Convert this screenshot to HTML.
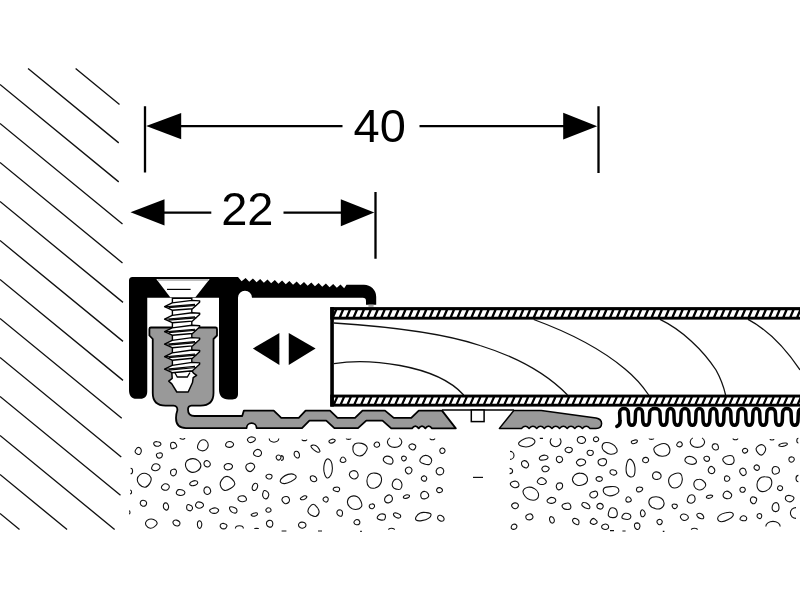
<!DOCTYPE html>
<html><head><meta charset="utf-8"><title>Profile 22 / 40</title>
<style>
html,body{margin:0;padding:0;background:#fff;}
body{width:800px;height:600px;overflow:hidden;}
svg{display:block;will-change:transform;}
.t{font-family:"Liberation Sans",Arial,Helvetica,sans-serif;fill:#000;}
</style></head><body>
<svg width="800" height="600" viewBox="0 0 800 600">
<defs><clipPath id="lamclip"><rect x="333.8" y="300" width="470" height="120"/></clipPath></defs>
<rect width="800" height="600" fill="#fff"/>
<path d="M75.61 68.5L119.5 104.49M28.05 68.5L118.75 142.88M0 84.5L118.75 181.88M0 123.5L122.5 223.95M0 162.5L122.5 262.95M0 201.5L123 302.36M0 240.5L123 341.36M0 279.5L123 380.36M0 318.5L121.75 418.33M0 357.5L121.25 456.93M0 396.5L120.5 495.31M0 435.5L114.63 529.5M0 474.5L67.07 529.5M0 513.5L19.51 529.5" stroke="#111" stroke-width="1.35" fill="none"/>
<g stroke="#000" stroke-width="2.25" fill="none">
<path d="M145 106.3V172.5M598.5 106.3V173M375.5 192V258.8" stroke-width="2.3"/>
<path d="M180 126H342.5M419.5 126H565M163 212.5H211.3M283.5 212.5H342"/>
</g>
<g fill="#000">
<path d="M146.2 126L181.2 113V139.2Z"/>
<path d="M597.2 126.2L563.2 112.7V139.6Z"/>
<path d="M130.5 212.3L164.5 199.2V225.5Z"/>
<path d="M374.3 212.5L340.8 199.2V226.2Z"/>
<path d="M252.9 348.5L279.4 333.1V365Z"/>
<path d="M315.6 348.5L288.75 333.1V365Z"/>
</g>
<text x="379.75" y="141.9" font-size="47" text-anchor="middle" class="t">40</text>
<text x="247.35" y="225.4" font-size="47" text-anchor="middle" class="t">22</text>
<rect x="330.25" y="307.1" width="469.75" height="99.5" fill="#fff"/>
<g stroke="#111" stroke-width="1.3" fill="none">
<path d="M334 323C380 326 440 332 480 345.5C520 358 548 375 567.5 395"/>
<path d="M334 363.7C350 361 375 361 400 365.5C430 371 452 382 463.7 395"/>
<path d="M533.7 319.5C565 331 600 348 625 369C636 378 644 388 648.7 395"/>
<path d="M660 319.4C682 330 703 350 716 370C721 379 724 388 725.6 395"/>
<path d="M748 319.4C768 330 786 349 800 370"/>
</g>
<rect x="330.25" y="307.1" width="469.75" height="12.5" fill="#000"/>
<path d="M327.47 316.7L330.27 310.2L334.67 310.2L331.87 316.7ZM334.4 316.7L337.2 310.2L341.6 310.2L338.8 316.7ZM341.33 316.7L344.13 310.2L348.53 310.2L345.73 316.7ZM348.26 316.7L351.06 310.2L355.46 310.2L352.66 316.7ZM355.19 316.7L357.99 310.2L362.39 310.2L359.59 316.7ZM362.12 316.7L364.92 310.2L369.32 310.2L366.52 316.7ZM369.05 316.7L371.85 310.2L376.25 310.2L373.45 316.7ZM375.98 316.7L378.78 310.2L383.18 310.2L380.38 316.7ZM382.91 316.7L385.71 310.2L390.11 310.2L387.31 316.7ZM389.84 316.7L392.64 310.2L397.04 310.2L394.24 316.7ZM396.77 316.7L399.57 310.2L403.97 310.2L401.17 316.7ZM403.7 316.7L406.5 310.2L410.9 310.2L408.1 316.7ZM410.63 316.7L413.43 310.2L417.83 310.2L415.03 316.7ZM417.56 316.7L420.36 310.2L424.76 310.2L421.96 316.7ZM424.49 316.7L427.29 310.2L431.69 310.2L428.89 316.7ZM431.42 316.7L434.22 310.2L438.62 310.2L435.82 316.7ZM438.35 316.7L441.15 310.2L445.55 310.2L442.75 316.7ZM445.28 316.7L448.08 310.2L452.48 310.2L449.68 316.7ZM452.21 316.7L455.01 310.2L459.41 310.2L456.61 316.7ZM459.14 316.7L461.94 310.2L466.34 310.2L463.54 316.7ZM466.07 316.7L468.87 310.2L473.27 310.2L470.47 316.7ZM473 316.7L475.8 310.2L480.2 310.2L477.4 316.7ZM479.93 316.7L482.73 310.2L487.13 310.2L484.33 316.7ZM486.86 316.7L489.66 310.2L494.06 310.2L491.26 316.7ZM493.79 316.7L496.59 310.2L500.99 310.2L498.19 316.7ZM500.72 316.7L503.52 310.2L507.92 310.2L505.12 316.7ZM507.65 316.7L510.45 310.2L514.85 310.2L512.05 316.7ZM514.58 316.7L517.38 310.2L521.78 310.2L518.98 316.7ZM521.51 316.7L524.31 310.2L528.71 310.2L525.91 316.7ZM528.44 316.7L531.24 310.2L535.64 310.2L532.84 316.7ZM535.37 316.7L538.17 310.2L542.57 310.2L539.77 316.7ZM542.3 316.7L545.1 310.2L549.5 310.2L546.7 316.7ZM549.23 316.7L552.03 310.2L556.43 310.2L553.63 316.7ZM556.16 316.7L558.96 310.2L563.36 310.2L560.56 316.7ZM563.09 316.7L565.89 310.2L570.29 310.2L567.49 316.7ZM570.02 316.7L572.82 310.2L577.22 310.2L574.42 316.7ZM576.95 316.7L579.75 310.2L584.15 310.2L581.35 316.7ZM583.88 316.7L586.68 310.2L591.08 310.2L588.28 316.7ZM590.81 316.7L593.61 310.2L598.01 310.2L595.21 316.7ZM597.74 316.7L600.54 310.2L604.94 310.2L602.14 316.7ZM604.67 316.7L607.47 310.2L611.87 310.2L609.07 316.7ZM611.6 316.7L614.4 310.2L618.8 310.2L616 316.7ZM618.53 316.7L621.33 310.2L625.73 310.2L622.93 316.7ZM625.46 316.7L628.26 310.2L632.66 310.2L629.86 316.7ZM632.39 316.7L635.19 310.2L639.59 310.2L636.79 316.7ZM639.32 316.7L642.12 310.2L646.52 310.2L643.72 316.7ZM646.25 316.7L649.05 310.2L653.45 310.2L650.65 316.7ZM653.18 316.7L655.98 310.2L660.38 310.2L657.58 316.7ZM660.11 316.7L662.91 310.2L667.31 310.2L664.51 316.7ZM667.04 316.7L669.84 310.2L674.24 310.2L671.44 316.7ZM673.97 316.7L676.77 310.2L681.17 310.2L678.37 316.7ZM680.9 316.7L683.7 310.2L688.1 310.2L685.3 316.7ZM687.83 316.7L690.63 310.2L695.03 310.2L692.23 316.7ZM694.76 316.7L697.56 310.2L701.96 310.2L699.16 316.7ZM701.69 316.7L704.49 310.2L708.89 310.2L706.09 316.7ZM708.62 316.7L711.42 310.2L715.82 310.2L713.02 316.7ZM715.55 316.7L718.35 310.2L722.75 310.2L719.95 316.7ZM722.48 316.7L725.28 310.2L729.68 310.2L726.88 316.7ZM729.41 316.7L732.21 310.2L736.61 310.2L733.81 316.7ZM736.34 316.7L739.14 310.2L743.54 310.2L740.74 316.7ZM743.27 316.7L746.07 310.2L750.47 310.2L747.67 316.7ZM750.2 316.7L753 310.2L757.4 310.2L754.6 316.7ZM757.13 316.7L759.93 310.2L764.33 310.2L761.53 316.7ZM764.06 316.7L766.86 310.2L771.26 310.2L768.46 316.7ZM770.99 316.7L773.79 310.2L778.19 310.2L775.39 316.7ZM777.92 316.7L780.72 310.2L785.12 310.2L782.32 316.7ZM784.85 316.7L787.65 310.2L792.05 310.2L789.25 316.7ZM791.78 316.7L794.58 310.2L798.98 310.2L796.18 316.7ZM798.71 316.7L801.51 310.2L805.91 310.2L803.11 316.7Z" fill="#fff" clip-path="url(#lamclip)"/>
<rect x="330.25" y="394.6" width="469.75" height="12" fill="#000"/>
<path d="M328.58 403.8L331.38 397.5L335.78 397.5L332.98 403.8ZM335.4 403.8L338.2 397.5L342.6 397.5L339.8 403.8ZM342.22 403.8L345.02 397.5L349.42 397.5L346.62 403.8ZM349.04 403.8L351.84 397.5L356.24 397.5L353.44 403.8ZM355.86 403.8L358.66 397.5L363.06 397.5L360.26 403.8ZM362.68 403.8L365.48 397.5L369.88 397.5L367.08 403.8ZM369.5 403.8L372.3 397.5L376.7 397.5L373.9 403.8ZM376.32 403.8L379.12 397.5L383.52 397.5L380.72 403.8ZM383.14 403.8L385.94 397.5L390.34 397.5L387.54 403.8ZM389.96 403.8L392.76 397.5L397.16 397.5L394.36 403.8ZM396.78 403.8L399.58 397.5L403.98 397.5L401.18 403.8ZM403.6 403.8L406.4 397.5L410.8 397.5L408 403.8ZM410.42 403.8L413.22 397.5L417.62 397.5L414.82 403.8ZM417.24 403.8L420.04 397.5L424.44 397.5L421.64 403.8ZM424.06 403.8L426.86 397.5L431.26 397.5L428.46 403.8ZM430.88 403.8L433.68 397.5L438.08 397.5L435.28 403.8ZM437.7 403.8L440.5 397.5L444.9 397.5L442.1 403.8ZM444.52 403.8L447.32 397.5L451.72 397.5L448.92 403.8ZM451.34 403.8L454.14 397.5L458.54 397.5L455.74 403.8ZM458.16 403.8L460.96 397.5L465.36 397.5L462.56 403.8ZM464.98 403.8L467.78 397.5L472.18 397.5L469.38 403.8ZM471.8 403.8L474.6 397.5L479 397.5L476.2 403.8ZM478.62 403.8L481.42 397.5L485.82 397.5L483.02 403.8ZM485.44 403.8L488.24 397.5L492.64 397.5L489.84 403.8ZM492.26 403.8L495.06 397.5L499.46 397.5L496.66 403.8ZM499.08 403.8L501.88 397.5L506.28 397.5L503.48 403.8ZM505.9 403.8L508.7 397.5L513.1 397.5L510.3 403.8ZM512.72 403.8L515.52 397.5L519.92 397.5L517.12 403.8ZM519.54 403.8L522.34 397.5L526.74 397.5L523.94 403.8ZM526.36 403.8L529.16 397.5L533.56 397.5L530.76 403.8ZM533.18 403.8L535.98 397.5L540.38 397.5L537.58 403.8ZM540 403.8L542.8 397.5L547.2 397.5L544.4 403.8ZM546.82 403.8L549.62 397.5L554.02 397.5L551.22 403.8ZM553.64 403.8L556.44 397.5L560.84 397.5L558.04 403.8ZM560.46 403.8L563.26 397.5L567.66 397.5L564.86 403.8ZM567.28 403.8L570.08 397.5L574.48 397.5L571.68 403.8ZM574.1 403.8L576.9 397.5L581.3 397.5L578.5 403.8ZM580.92 403.8L583.72 397.5L588.12 397.5L585.32 403.8ZM587.74 403.8L590.54 397.5L594.94 397.5L592.14 403.8ZM594.56 403.8L597.36 397.5L601.76 397.5L598.96 403.8ZM601.38 403.8L604.18 397.5L608.58 397.5L605.78 403.8ZM608.2 403.8L611 397.5L615.4 397.5L612.6 403.8ZM615.02 403.8L617.82 397.5L622.22 397.5L619.42 403.8ZM621.84 403.8L624.64 397.5L629.04 397.5L626.24 403.8ZM628.66 403.8L631.46 397.5L635.86 397.5L633.06 403.8ZM635.48 403.8L638.28 397.5L642.68 397.5L639.88 403.8ZM642.3 403.8L645.1 397.5L649.5 397.5L646.7 403.8ZM649.12 403.8L651.92 397.5L656.32 397.5L653.52 403.8ZM655.94 403.8L658.74 397.5L663.14 397.5L660.34 403.8ZM662.76 403.8L665.56 397.5L669.96 397.5L667.16 403.8ZM669.58 403.8L672.38 397.5L676.78 397.5L673.98 403.8ZM676.4 403.8L679.2 397.5L683.6 397.5L680.8 403.8ZM683.22 403.8L686.02 397.5L690.42 397.5L687.62 403.8ZM690.04 403.8L692.84 397.5L697.24 397.5L694.44 403.8ZM696.86 403.8L699.66 397.5L704.06 397.5L701.26 403.8ZM703.68 403.8L706.48 397.5L710.88 397.5L708.08 403.8ZM710.5 403.8L713.3 397.5L717.7 397.5L714.9 403.8ZM717.32 403.8L720.12 397.5L724.52 397.5L721.72 403.8ZM724.14 403.8L726.94 397.5L731.34 397.5L728.54 403.8ZM730.96 403.8L733.76 397.5L738.16 397.5L735.36 403.8ZM737.78 403.8L740.58 397.5L744.98 397.5L742.18 403.8ZM744.6 403.8L747.4 397.5L751.8 397.5L749 403.8ZM751.42 403.8L754.22 397.5L758.62 397.5L755.82 403.8ZM758.24 403.8L761.04 397.5L765.44 397.5L762.64 403.8ZM765.06 403.8L767.86 397.5L772.26 397.5L769.46 403.8ZM771.88 403.8L774.68 397.5L779.08 397.5L776.28 403.8ZM778.7 403.8L781.5 397.5L785.9 397.5L783.1 403.8ZM785.52 403.8L788.32 397.5L792.72 397.5L789.92 403.8ZM792.34 403.8L795.14 397.5L799.54 397.5L796.74 403.8ZM799.16 403.8L801.96 397.5L806.36 397.5L803.56 403.8Z" fill="#fff" clip-path="url(#lamclip)"/>
<rect x="330.25" y="307.1" width="3.6" height="99.5" fill="#000"/>
<path d="M442 410.1H514" stroke="#000" stroke-width="1.5" fill="none"/>
<rect x="471.3" y="410" width="12.8" height="11.6" fill="#fff" stroke="#000" stroke-width="1.5"/>
<path d="M150.9 327.5H215.5Q217 327.5 217 329V335.5L213.5 339V393Q213.5 405.6 200.5 405.6H191.5Q188 405.8 188 409.5Q188 416 194.5 416H242.2L243.9 410.6H273.75L281.25 417.9H298.75L305.6 410.6H330L337.5 417.9H355L362.5 410.6H385L393.75 417.9H411.25L418.75 410.6H442L455.8 428.4H432Q428.67 424 425.33 428.4Q422 424 418.67 428.4Q415.33 424 412 428.4H391.25L382.5 420.6H366.25L358 428.1H334.4L326.25 420.6H309.4L302 428.1H256.6A4.9 4.9 0 0 0 246.6 428.1H186Q176 428.1 176 418Q176 414 177.3 410.5Q177.8 406 173.5 405.6H165.5Q152.75 405.6 152.75 393V339L149.4 335.5V329Q149.4 327.5 150.9 327.5Z" fill="#999" stroke="#000" stroke-width="1.8" stroke-linejoin="round"/>
<path d="M499.4 428.4L513.75 410.6H541.25L596 418Q601.6 419 601.6 423.5Q601.6 428.4 596 428.4H590Q586.19 424 582.39 428.4Q578.58 424 574.78 428.4Q570.97 424 567.17 428.4Q563.36 424 559.56 428.4Q555.75 424 551.94 428.4Q548.14 424 544.33 428.4Q540.53 424 536.72 428.4Q532.92 424 529.11 428.4Q525.31 424 521.5 428.4Z" fill="#999" stroke="#000" stroke-width="1.5" stroke-linejoin="round"/>
<path d="M616.9 426.4Q620.6 425 620 420.5L619.6 412.8C619.6 407.2 628.3 407.2 628.3 412.8L628.6 421.1C628.6 426.7 635.2 426.7 635.2 421.1L635.5 412.8C635.5 407.2 642.5 407.2 642.5 412.8L642.8 421.1C642.8 426.7 649.4 426.7 649.4 421.1L649.7 412.8C649.7 407.2 660 407.2 660 412.8L660.3 421.1C660.3 426.7 666.9 426.7 666.9 421.1L667.2 412.8C667.2 407.2 673.9 407.2 673.9 412.8L674.2 421.1C674.2 426.7 680.8 426.7 680.8 421.1L681.1 412.8C681.1 407.2 688.8 407.2 688.8 412.8L689.1 421.1C689.1 426.7 695.7 426.7 695.7 421.1L696 412.8C696 407.2 702.8 407.2 702.8 412.8L703.1 421.1C703.1 426.7 709.7 426.7 709.7 421.1L710 412.8C710 407.2 716.8 407.2 716.8 412.8L717.1 421.1C717.1 426.7 723.7 426.7 723.7 421.1L724 412.8C724 407.2 730.8 407.2 730.8 412.8L731.1 421.1C731.1 426.7 737.7 426.7 737.7 421.1L738 412.8C738 407.2 745.7 407.2 745.7 412.8L746 421.1C746 426.7 752.6 426.7 752.6 421.1L752.9 412.8C752.9 407.2 759.7 407.2 759.7 412.8L760 421.1C760 426.7 766.6 426.7 766.6 421.1L766.9 412.8C766.9 407.2 775.4 407.2 775.4 412.8L775.7 421.1C775.7 426.7 782.3 426.7 782.3 421.1L782.6 412.8C782.6 407.2 791.1 407.2 791.1 412.8L791.4 421.1C791.4 426.7 798 426.7 798 421.1L798.3 412.8C798.3 407.2 806.4 407.2 806.4 412.8L806.7 421.1C806.7 426.7 813.3 426.7 813.3 421.1L813.6 412.8" fill="none" stroke="#000" stroke-width="3.5" stroke-linecap="round" stroke-linejoin="round"/>
<path d="M129 280.5Q129 277 132.5 277H238L241.6 281.2L245.6 278L249.25 281.65L252.9 278.51L256.55 282.16L260.2 279.01L263.85 282.66L267.5 279.52L271.15 283.17L274.8 280.03L278.45 283.68L282.1 280.54L285.75 284.19L289.4 281.04L293.05 284.69L296.7 281.55L300.35 285.2L304 282.06L307.65 285.71L311.3 282.57L314.95 286.22L318.6 283.07L322.25 286.72L325.9 283.58L329.55 287.23L333.2 284.09L336.85 287.74L340.5 284.6L344.15 288.25L346.5 284.7H364A12.2 12.2 0 0 1 376.2 297V304.8H366V301Q366 297.7 362.8 297.7H252A7 7 0 0 0 238 297.75V394C238 397.6 236 399.4 232.5 399.4H228.5C222.5 399.4 219 396 219 389.5V297.75H147.25V391.5C147.25 396.5 144.5 398.8 140.5 398.8H136.5C131.5 398.8 129 395.5 129 390Z" fill="#000"/>
<rect x="368.4" y="304.6" width="5.2" height="2.3" fill="#a8a8a8"/>
<path d="M156.3 279L209.7 279L195.4 297.2H170.2Z" fill="#fff"/>
<path d="M157.5 280H208.5" stroke="#aaa" stroke-width="1.3"/>
<path d="M167 289.4H190.6" stroke="#000" stroke-width="1.2"/>
<rect x="172.4" y="298.3" width="19.4" height="75" fill="#fff" stroke="#000" stroke-width="1.4"/>
<path d="M171.8 372L172.2 378.4L168.75 381.1L171.8 383.9L176.8 392H188.2L192.5 382.5L193.2 377.7L196.6 375.3L193.5 373.2L192.1 371Z" fill="#fff" stroke="#000" stroke-width="1.5" stroke-linejoin="round"/>
<path d="M174.9 372.7L177.3 377H187.3L190 372.5" fill="#fff" stroke="#000" stroke-width="1.3"/>
<path d="M164.6 306.7 L172.2 302.9 L192 300.4 L199.7 300.9 L199.6 302.2 L192.5 308.7 L172.2 310.2 Z" fill="#fff" stroke="#000" stroke-width="1.4" stroke-linejoin="round"/>
<path d="M164.6 306.7L195 304.4M168.5 307.6L196.3 305.5" stroke="#000" stroke-width="1.1" fill="none"/>
<path d="M164.6 319.2 L172.2 315.4 L192 312.8 L199.7 313.3 L199.6 314.6 L192.5 321.1 L172.2 322.7 Z" fill="#fff" stroke="#000" stroke-width="1.4" stroke-linejoin="round"/>
<path d="M164.6 319.2L195 316.8M168.5 320.1L196.3 317.9" stroke="#000" stroke-width="1.1" fill="none"/>
<path d="M164.6 331.7 L172.2 327.9 L192 325.2 L199.7 325.7 L199.6 327 L192.5 333.5 L172.2 335.2 Z" fill="#fff" stroke="#000" stroke-width="1.4" stroke-linejoin="round"/>
<path d="M164.6 331.7L195 329.2M168.5 332.6L196.3 330.3" stroke="#000" stroke-width="1.1" fill="none"/>
<path d="M164.6 344.2 L172.2 340.4 L192 337.6 L199.7 338.1 L199.6 339.4 L192.5 345.9 L172.2 347.7 Z" fill="#fff" stroke="#000" stroke-width="1.4" stroke-linejoin="round"/>
<path d="M164.6 344.2L195 341.6M168.5 345.1L196.3 342.7" stroke="#000" stroke-width="1.1" fill="none"/>
<path d="M164.6 356.7 L172.2 352.9 L192 350 L199.7 350.5 L199.6 351.8 L192.5 358.3 L172.2 360.2 Z" fill="#fff" stroke="#000" stroke-width="1.4" stroke-linejoin="round"/>
<path d="M164.6 356.7L195 354M168.5 357.6L196.3 355.1" stroke="#000" stroke-width="1.1" fill="none"/>
<path d="M164.6 369.2 L172.2 365.4 L192 362.4 L199.7 362.9 L199.6 364.2 L192.5 370.7 L172.2 372.7 Z" fill="#fff" stroke="#000" stroke-width="1.4" stroke-linejoin="round"/>
<path d="M164.6 369.2L195 366.4M168.5 370.1L196.3 367.5" stroke="#000" stroke-width="1.1" fill="none"/>
<path fill="none" stroke="#111" stroke-width="1.1" d="M137.1 453.9C136.2 453.4 135.3 452.7 135.1 451.8C135 450.8 135.6 449.8 136.2 449C136.8 448.1 137.6 447.4 138.4 447.4C139.3 447.3 140.3 448 140.8 448.9C141.4 449.7 141.4 450.7 141.2 451.8C140.9 452.8 140.5 453.9 139.7 454.3C139 454.7 138 454.4 137.1 453.9ZM160.8 444.6C160.6 445.3 159.7 445.8 158.8 446.1C157.8 446.4 156.9 446.4 156 446.1C155 445.8 154.3 445.3 154 444.5C153.6 443.8 153.7 442.8 154.4 442.2C155 441.7 156.3 441.6 157.4 441.7C158.5 441.7 159.4 442 160 442.5C160.7 443.1 161.1 443.9 160.8 444.6ZM171.1 443C171.7 442.4 172.9 442.2 173.8 442.4C174.7 442.5 175.4 443.1 175.9 444C176.4 444.8 176.9 446 176.6 446.8C176.2 447.7 175.2 448 174.2 448.3C173.3 448.6 172.3 449 171.6 448.5C170.9 448.1 170.7 446.9 170.6 445.9C170.5 444.8 170.5 443.7 171.1 443ZM206 449.6C204.8 450.6 203.4 451 201.8 450.8C200.2 450.5 198.3 449.6 197.7 448.2C197.1 446.7 197.8 444.9 198.6 443.3C199.3 441.8 200.3 440.4 201.8 440C203.4 439.6 205.3 440 206.5 441.1C207.8 442.2 208.3 444 208.2 445.6C208.1 447.3 207.2 448.6 206 449.6ZM226 443.6C226.4 442.7 227.1 442.1 228.1 441.8C229.1 441.4 230.2 441.4 231.2 441.8C232.3 442.3 233.3 443 233.5 443.9C233.7 444.8 233.1 445.9 232.3 446.5C231.4 447.2 230.3 447.5 229.1 447.4C227.9 447.4 226.6 447 226 446.2C225.4 445.5 225.6 444.4 226 443.6ZM248.1 441.2C247.5 440.5 247.1 439.8 247.6 439C248 438.2 249.2 437.4 250.4 437C251.6 436.7 252.7 436.9 253.6 437.3C254.6 437.7 255.3 438.2 255.4 439C255.5 439.7 254.9 440.6 253.9 441.3C253 442 251.6 442.6 250.5 442.6C249.4 442.6 248.6 441.9 248.1 441.2ZM159 453C160 452.8 161.3 452.8 161.9 453.3C162.5 453.8 162.4 454.8 162.3 455.6C162.1 456.4 161.9 457.1 161.1 457.5C160.4 458 159.2 458.3 158.3 458C157.5 457.8 157 457 156.7 456.2C156.4 455.5 156.2 454.7 156.7 454.1C157.1 453.4 158 453.1 159 453ZM261.4 453.9C261.2 454.9 260.4 455.9 259.3 456.3C258.2 456.7 257 456.6 255.8 456.1C254.7 455.6 253.7 454.7 253.5 453.8C253.3 452.8 254 451.8 254.8 450.9C255.6 450.1 256.6 449.4 257.7 449.4C258.8 449.4 260 450 260.7 450.9C261.4 451.7 261.7 452.8 261.4 453.9ZM278.8 438.6A4.8 3.6 0 0 1 269.2 438.6M276.3 456.5C276.7 455.7 277.5 455 278.3 455C279.2 454.9 280.3 455.5 280.7 456.2C281.1 456.9 280.9 458 280.5 458.7C280.1 459.5 279.2 460.1 278.5 460.1C277.7 460.1 277 459.4 276.6 458.7C276.2 458 276 457.2 276.3 456.5ZM154.3 464C155.5 463.6 157.1 463.6 158.2 464.2C159.4 464.8 160.1 466 160.1 467.1C160.1 468.2 159.3 469.1 158.3 469.7C157.3 470.4 156.3 470.8 155 470.7C153.8 470.6 152.4 470 151.8 469.2C151.3 468.4 151.7 467.3 152.2 466.3C152.6 465.3 153.1 464.4 154.3 464ZM170.6 473.2C170.4 472.2 170.6 471.2 171.1 470.4C171.7 469.7 172.4 469.3 173.4 469.2C174.3 469.1 175.5 469.2 176 470C176.6 470.7 176.5 472 176.2 473.1C176 474.1 175.5 474.9 174.7 475.4C173.9 475.9 172.9 476 172.1 475.6C171.3 475.1 170.7 474.2 170.6 473.2ZM198.2 460.6C199.7 462 201 463.7 200.9 465.6C200.8 467.5 199.6 469.5 197.7 470.7C195.8 472 193.3 472.7 191.1 472.1C188.8 471.5 187 469.7 186.1 467.6C185.2 465.5 185.4 462.9 186.6 461.2C187.9 459.5 190.5 458.8 192.7 458.6C194.9 458.5 196.6 459.3 198.2 460.6ZM204.7 465.6C204.2 464.8 203.8 463.7 204.1 462.7C204.4 461.8 205.4 460.8 206.3 460.6C207.3 460.4 208.2 461 209 461.6C209.8 462.2 210.2 462.9 210.3 463.8C210.4 464.6 210.1 465.6 209.4 466.2C208.8 466.8 207.9 467.1 207 466.9C206.1 466.8 205.3 466.4 204.7 465.6ZM224.1 466.7C224.1 465.7 224.7 464.8 225.7 464.2C226.6 463.6 227.7 463.5 228.9 463.6C230.1 463.7 231.3 464 231.9 464.8C232.6 465.5 232.6 466.6 232.2 467.5C231.8 468.4 231 469.1 229.7 469.5C228.5 469.9 226.9 469.9 225.8 469.4C224.8 468.9 224.2 467.7 224.1 466.7ZM248.9 463.5C250.1 463 251.4 463 252.6 463.6C253.7 464.2 254.6 465.4 254.7 466.6C254.9 467.7 254 468.6 253.1 469.6C252.2 470.6 251.3 471.6 250.1 471.6C248.8 471.6 247.5 470.7 246.7 469.6C245.9 468.5 245.6 467.1 246 465.9C246.4 464.7 247.6 463.9 248.9 463.5ZM130.6 468.2A2 2.8 0 0 1 130.6 473.8M146.2 473.5C148.3 474.1 150.2 475.7 150.9 477.5C151.6 479.4 151 481.3 149.9 483.1C148.8 485 147.2 486.9 145.2 487.2C143.1 487.4 140.9 486 139.4 484.5C137.9 483.1 137.2 481.4 137.3 479.5C137.4 477.6 138.3 475.8 140.1 474.6C141.8 473.5 144.1 472.9 146.2 473.5ZM270.7 478.7C269.9 479.1 268.8 479 268 478.8C267.1 478.5 266.5 478 266.2 477.3C265.9 476.7 265.9 475.9 266.4 475.3C266.9 474.7 267.7 474.4 268.7 474.3C269.6 474.2 270.7 474.3 271.3 474.8C272 475.3 272.1 476.1 272 476.9C271.8 477.6 271.5 478.4 270.7 478.7ZM168.4 484.9C169.3 485.6 169.4 486.6 169.2 487.5C169 488.4 168.5 489.2 167.5 489.7C166.5 490.2 165.2 490.4 164.1 490.1C162.9 489.8 161.9 489.1 161.6 488.2C161.2 487.4 161.6 486.5 162.2 485.7C162.8 484.8 163.7 483.9 164.9 483.7C166.1 483.6 167.6 484.1 168.4 484.9ZM197.6 482.2C197.8 482.9 197.5 483.8 196.7 484.4C195.9 485.1 194.7 485.5 193.5 485.6C192.3 485.8 191.4 485.7 190.7 485.2C189.9 484.8 189.5 484.2 189.8 483.5C190.1 482.8 190.9 482.1 192 481.6C193.2 481 194.6 480.5 195.6 480.7C196.7 480.8 197.4 481.5 197.6 482.2ZM230.8 488.3C228.9 489.5 226.6 490.9 224.6 490.4C222.6 489.8 220.9 487.4 220.4 485.4C219.8 483.4 220.5 481.6 221.7 479.9C222.9 478.1 224.6 476.5 226.6 476.4C228.6 476.2 230.4 477.5 232 479C233.6 480.5 235 482.2 234.8 484C234.6 485.8 232.8 487 230.8 488.3ZM184.8 492.2C185 493.1 184.3 494.2 183.4 494.8C182.4 495.4 181.1 495.5 179.8 495.4C178.6 495.3 177.5 494.9 176.8 494.2C176.2 493.5 176.2 492.6 176.6 491.8C176.9 490.9 177.5 489.9 178.6 489.6C179.7 489.3 181.2 489.5 182.4 490C183.6 490.5 184.6 491.2 184.8 492.2ZM208 487C208.9 487.3 209.5 487.9 210 488.8C210.5 489.8 210.9 490.9 210.6 491.9C210.3 493 209.4 494 208.3 494.3C207.3 494.6 206.2 494.3 205.3 493.6C204.5 492.9 204 491.7 203.9 490.6C203.9 489.4 204.4 488.1 205.1 487.5C205.9 486.8 207 486.8 208 487ZM256 483.3C256.7 483.4 257.4 484 257.6 485C257.8 486 257.4 487.4 256.9 488.5C256.4 489.5 255.5 490.1 254.8 490.4C254 490.7 253.3 490.5 252.8 489.9C252.3 489.3 252 488.4 252.2 487.3C252.4 486.2 253 485 253.7 484.2C254.4 483.4 255.2 483.1 256 483.3ZM264.2 490.6C265 490.2 266 490.7 266.9 491.4C267.8 492 268.5 492.8 268.7 494C268.9 495.2 268.5 496.6 267.8 497.6C267.2 498.5 266 499 265.1 498.8C264.2 498.7 263.4 497.6 263 496.6C262.5 495.6 262.5 494.7 262.8 493.5C263 492.4 263.4 491 264.2 490.6ZM130 490A1.6 2 0 0 1 130 494M242.8 501.7C241.5 501.8 240.5 501.6 239.6 501C238.6 500.4 237.9 499.7 237.9 498.8C237.9 497.8 238.5 496.8 239.6 496.3C240.7 495.7 242.3 495.6 243.6 495.9C244.8 496.2 245.6 497 246.1 497.9C246.6 498.8 246.6 499.8 246 500.6C245.3 501.3 244 501.6 242.8 501.7ZM144.2 500.5C145.2 500.8 146.2 501.4 146.5 502.3C146.7 503.3 146.4 504.7 145.6 505.5C144.8 506.2 143.4 506.4 142.4 506.1C141.4 505.7 140.5 504.7 140.3 503.7C140.1 502.7 140.6 501.4 141.4 500.8C142.2 500.2 143.2 500.2 144.2 500.5ZM167.1 509.9C166.4 510.3 165.7 510 165 509.5C164.3 509 163.7 508.3 163.5 507.3C163.3 506.2 163.4 504.7 163.9 503.9C164.4 503 165.2 502.8 166 502.9C166.8 503 167.3 503.4 167.8 504.2C168.3 505.1 168.7 506.2 168.6 507.3C168.5 508.4 167.8 509.5 167.1 509.9ZM190.4 505.2C191.4 505.6 192 506.2 192.3 507C192.7 507.8 192.6 508.5 192.2 509.3C191.8 510 191.1 510.8 190.2 510.9C189.2 510.9 187.9 510.3 187.2 509.6C186.6 508.8 186.6 507.9 186.6 507C186.7 506.1 186.8 505.1 187.6 504.7C188.3 504.3 189.5 504.7 190.4 505.2ZM203.5 504.8C203.7 505.7 203 506.6 202.1 507.2C201.2 507.9 199.9 508.3 198.8 508.2C197.6 508.1 196.6 507.4 196 506.7C195.4 505.9 195.4 505.3 195.7 504.4C196 503.5 196.5 502.4 197.6 502C198.7 501.7 200.3 502 201.5 502.5C202.6 503.1 203.4 503.9 203.5 504.8ZM209.6 510.3C209.8 509.5 211 508.8 212.2 508.4C213.4 507.9 214.7 507.7 216 508C217.2 508.3 218.3 509.1 218.6 510C218.8 510.8 218.2 511.6 217.4 512.3C216.6 513 215.6 513.4 214.4 513.4C213.2 513.5 212.2 513.2 211.2 512.6C210.3 512 209.4 511.1 209.6 510.3ZM231.9 512.1C230.8 511.4 230.1 510.4 229.8 509.4C229.4 508.4 229.4 507.5 230 507C230.5 506.6 231.6 506.7 232.8 507C234 507.3 235.4 507.8 236.2 508.7C237 509.6 237.1 510.7 236.9 511.6C236.7 512.4 236.2 512.9 235.3 513.1C234.3 513.2 233 512.8 231.9 512.1ZM251.2 514.5C251.5 514 252.6 513.6 253.5 513.2C254.5 512.9 255.6 512.6 256.4 512.7C257.2 512.8 257.5 513.4 257.5 513.9C257.5 514.4 257.2 514.9 256.5 515.4C255.8 515.9 254.7 516.3 253.9 516.3C253 516.4 252.5 516.1 252 515.8C251.5 515.4 250.9 515 251.2 514.5ZM266 510.7C265.7 510.1 265.9 509.4 266.5 508.8C267 508.2 268 507.6 268.8 507.7C269.7 507.7 270.4 508.5 270.8 509.3C271.1 510 271.1 510.8 270.6 511.4C270 511.9 268.8 512.4 268 512.3C267.1 512.2 266.3 511.4 266 510.7ZM145.8 522.1C146.3 520.8 147.6 519.7 149.2 519.2C150.8 518.8 152.7 518.9 154.2 519.7C155.8 520.4 157.1 521.8 157.2 523.1C157.3 524.5 156 525.6 154.6 526.6C153.3 527.6 151.8 528.4 150.2 528.2C148.6 528.1 147.2 527 146.4 525.8C145.5 524.6 145.3 523.3 145.8 522.1ZM174.7 525.2C173.7 524.6 173.2 523.7 173 522.8C172.8 521.9 173.1 521.2 173.8 520.7C174.5 520.1 175.5 519.9 176.6 520.1C177.7 520.4 178.9 521 179.5 521.8C180.1 522.7 180 523.6 179.7 524.4C179.3 525.1 178.8 525.7 177.8 525.9C176.8 526 175.6 525.8 174.7 525.2ZM197.4 524.3C197.4 523.1 197.7 522 198.2 521.4C198.8 520.7 199.5 520.7 200.2 521C200.8 521.3 201.4 522 201.6 522.9C201.9 523.9 201.8 525 201.5 526.1C201.2 527.1 200.7 528.1 200.1 528.3C199.4 528.6 198.6 528.1 198.1 527.3C197.6 526.5 197.4 525.4 197.4 524.3ZM226.9 525.4C227.2 526.2 226.6 527.1 226 527.8C225.4 528.5 224.8 528.9 223.9 528.9C222.9 529 221.8 528.7 221.1 527.9C220.4 527.2 220 526 220.3 525.2C220.5 524.4 221.3 523.9 222.2 523.6C223 523.3 223.7 523.3 224.6 523.7C225.5 524 226.6 524.6 226.9 525.4ZM235.4 528.6A4 2.8 0 0 1 243.4 528.6M266.7 524.7C266.4 523.8 266.4 522.7 266.8 521.9C267.3 521.1 268.1 520.6 269 520.4C269.9 520.2 271 520.2 271.7 520.9C272.4 521.5 272.9 522.8 272.8 523.9C272.8 525.1 272.2 526.4 271.4 526.9C270.5 527.4 269.4 527.1 268.5 526.7C267.6 526.3 267.1 525.7 266.7 524.7ZM184.8 438A2.4 1.2 0 0 1 180 438M254.6 529A2 0.6 0 0 1 258.6 529M129 510.8A1 1.6 0 0 1 129 514M316.1 445.8C317.3 446.5 318.1 447.5 318.8 448.6C319.5 449.7 320.2 450.8 319.9 451.5C319.6 452.1 318.3 452.4 317.1 452C315.9 451.7 314.7 450.6 313.5 449.6C312.3 448.5 311.1 447.4 311 446.5C310.8 445.7 311.8 445.3 312.8 445.1C313.8 445 315 445.1 316.1 445.8ZM294.5 455.6C294.1 454.6 294.1 453 294.5 452.2C294.9 451.3 295.7 451.2 296.4 451.2C297.2 451.2 297.9 451.5 298.5 452.3C299.1 453.1 299.5 454.3 299.5 455.3C299.5 456.4 299.1 457.3 298.6 457.8C298 458.2 297.3 458.1 296.6 457.7C295.8 457.3 294.9 456.7 294.5 455.6ZM331.2 443.1C330.3 443.2 329.8 442.8 329.4 442.3C329 441.9 328.7 441.5 329.1 440.9C329.4 440.3 330.4 439.7 331.3 439.4C332.3 439 333.1 439.1 333.8 439.3C334.5 439.4 335.1 439.7 335.1 440.2C335.2 440.8 334.8 441.5 334.1 442C333.3 442.6 332.1 443.1 331.2 443.1ZM352.9 449.6C352.8 447.6 353 445.2 354.7 444C356.4 442.9 359.4 442.8 361.8 443.4C364.2 444.1 366.5 445.6 367.1 447.4C367.8 449.2 366.4 451.2 365.1 452.9C363.9 454.5 362.4 455.7 360.4 455.9C358.5 456.2 356.4 455.3 355 454.1C353.5 452.9 352.9 451.5 352.9 449.6ZM377.5 442C378.3 442.1 379.1 442.8 379.4 443.6C379.7 444.4 379.7 445.4 379.1 446.1C378.5 446.7 377.4 447.4 376.4 447.2C375.5 447.1 374.4 446.2 374.1 445.3C373.9 444.5 374.4 443.5 375 442.8C375.6 442.2 376.6 441.8 377.5 442ZM399.23 437.86A7.2 5.4 0 1 1 389.97 437.86M413 450C412 450.1 410.9 449.5 410.1 448.7C409.4 447.9 408.8 446.9 408.9 446C409 445.2 409.9 444.5 410.7 444.2C411.5 443.8 412.3 443.8 413.2 444.1C414.2 444.4 415.2 444.9 415.6 445.7C416 446.5 415.7 447.5 415.2 448.4C414.7 449.2 414 450 413 450ZM345.8 461.1C345.4 461.8 344.2 462.4 343.2 462.5C342.2 462.5 341 462.1 340.5 461.4C340 460.7 340.3 459.6 340.8 458.8C341.2 457.9 342 457 342.8 457C343.6 456.9 344.5 457.7 345.1 458.5C345.6 459.3 346.2 460.3 345.8 461.1ZM331 461.2C332 463 332.4 465.6 332.4 468.3C332.4 471 331.9 473.5 330.8 475.3C329.7 477.1 328 478.4 326.7 477.7C325.4 476.9 324.5 474 324 471.4C323.6 468.8 323.7 466.6 324.3 464.2C324.9 461.8 325.9 459.7 327.1 459.1C328.4 458.5 329.9 459.5 331 461.2ZM387.1 463.5C385.6 462.9 384.4 462.2 383.8 461.1C383.1 460 383.2 458.8 383.8 457.9C384.3 456.9 385.4 456.3 386.8 456.1C388.2 456 389.8 456.5 391 457.3C392.2 458.2 392.9 459.4 393 460.6C393.1 461.9 392.8 463.3 391.6 463.9C390.5 464.4 388.6 464 387.1 463.5ZM403.4 460.9C402.6 460.7 401.9 459.9 401.7 459C401.5 458.2 401.7 457.2 402.2 456.7C402.8 456.1 403.8 456 404.6 456.2C405.4 456.4 406.1 457 406.3 457.7C406.5 458.5 406.2 459.4 405.6 460C405 460.6 404.1 461.1 403.4 460.9ZM425.4 455.4C427 455.3 428.6 456 429.8 457C431 458 431.8 459.1 431.7 460.5C431.6 461.9 430.8 463.7 429.4 464.4C428 465 426 464.4 424.3 463.9C422.5 463.4 420.6 462.8 420.1 461.6C419.5 460.4 420.2 458.8 421.2 457.6C422.2 456.4 423.7 455.5 425.4 455.4ZM280.3 481.6C279.9 480.4 281 478.8 282.5 477.5C284 476.1 285.8 475 288 474.4C290.2 473.8 292.5 473.7 294 474.4C295.5 475 296.5 476.3 296 477.6C295.4 479 293.2 480.3 291 481.5C288.8 482.6 286.6 483.5 284.5 483.6C282.5 483.6 280.7 482.7 280.3 481.6ZM313.9 476.1C315 476.4 315.8 477.2 316.3 478.1C316.8 479 316.8 479.9 316.5 480.6C316.1 481.3 315.2 481.6 314.3 481.7C313.4 481.7 312.4 481.5 311.7 480.9C310.9 480.3 310.5 479.5 310.4 478.6C310.2 477.7 310.2 476.7 310.9 476.2C311.6 475.7 312.9 475.7 313.9 476.1ZM353.9 479C352.7 479 351.7 478.4 350.8 477.4C350 476.5 349.1 475.3 349.4 474C349.6 472.8 350.8 471.5 352.1 471C353.4 470.5 355 470.6 356.1 471.3C357.3 472 357.9 473.2 358.1 474.5C358.3 475.7 357.9 476.9 357.1 477.7C356.3 478.6 355.1 479.1 353.9 479ZM369.1 486.9C367.5 485.6 366.9 483.4 366.9 481.1C366.9 478.7 367.5 476.3 369 474.8C370.5 473.3 372.6 472.9 374.8 473.1C377.1 473.3 379.4 473.8 380.6 475.8C381.7 477.8 381.7 481.1 380.6 483.5C379.6 485.8 377.3 487.3 375.1 488C372.8 488.6 370.6 488.3 369.1 486.9ZM408.7 474C407.7 474 406.8 473.2 406.1 472.3C405.5 471.5 405.2 470.5 405.4 469.6C405.6 468.7 406.4 468 407.2 467.6C408.1 467.1 409 466.8 409.9 467.2C410.8 467.5 411.6 468.4 411.9 469.3C412.1 470.3 411.9 471.3 411.3 472.2C410.7 473.1 409.7 474 408.7 474ZM400.6 488.9C399.4 489.7 397.7 489.6 396.1 489.1C394.6 488.7 393.2 487.9 392.6 486.5C392 485.2 392.2 483.6 392.8 482.1C393.5 480.7 394.6 479.4 396 479.1C397.5 478.8 399.1 479.6 400.2 480.6C401.3 481.7 401.9 483 402 484.5C402 486.1 401.7 488 400.6 488.9ZM423.2 480.9C422.3 480.6 421.6 479.9 421.4 479.1C421.2 478.3 421.6 477.2 422.3 476.6C423 476 424.1 475.7 424.9 476C425.8 476.3 426.5 477.2 426.7 478.1C426.8 479 426.4 480.2 425.8 480.7C425.1 481.2 424 481.2 423.2 480.9ZM338.9 487.6C339.5 488.1 339.7 488.8 339.6 489.5C339.5 490.3 339.2 491.2 338.4 491.5C337.7 491.9 336.5 491.5 335.6 491.2C334.6 490.9 333.7 490.6 333.4 490C333 489.3 333.3 488.4 333.8 487.8C334.4 487.3 335.4 487.1 336.4 487.1C337.3 487 338.2 487.1 338.9 487.6ZM287.7 496.8C288.7 497.3 289.3 498.4 289.5 499.5C289.6 500.6 289.3 501.7 288.5 502.5C287.7 503.3 286.4 503.8 285.2 503.7C284.1 503.5 283.4 502.6 282.7 501.7C282.1 500.8 281.7 499.9 282 499C282.3 498 283.1 497.2 284.3 496.8C285.4 496.4 286.7 496.3 287.7 496.8ZM304.7 495.8C305.6 495.7 306.5 496 306.7 496.4C307 496.8 306.8 497.4 306.2 498C305.7 498.7 304.9 499.2 303.9 499.6C303 499.9 302 499.8 301.3 499.6C300.6 499.4 300.3 498.9 300.4 498.4C300.6 497.9 301.3 497.4 302.1 496.9C303 496.4 303.9 495.9 304.7 495.8ZM328.1 500.1C327.9 500.9 327.3 501.7 326.6 502C325.9 502.2 325 501.9 324.3 501.4C323.6 500.8 322.9 499.9 323 499.1C323.2 498.2 324.1 497.4 325 497.1C325.8 496.8 327 497 327.6 497.6C328.2 498.1 328.3 499.2 328.1 500.1ZM350.8 496.6C352.7 495.7 355.4 495.8 357.3 496.7C359.2 497.6 360.1 499.3 360.9 501.2C361.7 503.1 362.5 505.2 361.4 506.8C360.4 508.4 357.9 509.5 355.6 509.5C353.3 509.5 351.1 508.3 349.6 506.8C348 505.2 347.2 503.3 347.5 501.3C347.7 499.4 348.9 497.5 350.8 496.6ZM386.6 496C387.6 495.3 388.9 494.6 390 495C391.1 495.3 392 496.6 392.3 497.7C392.6 498.9 392.4 499.9 391.8 500.9C391.2 501.8 390.3 502.5 389.1 502.7C387.9 503 386.3 502.8 385.5 502C384.6 501.2 384.5 499.8 384.7 498.6C385 497.5 385.6 496.7 386.6 496ZM405.9 494.9C406.8 494.6 407.9 494.7 408.6 495C409.3 495.2 409.6 495.5 409.6 496C409.6 496.5 409.2 497.1 408.5 497.5C407.7 498 406.7 498.4 405.8 498.4C404.8 498.5 403.9 498.3 403.6 497.9C403.2 497.5 403.3 497 403.7 496.4C404.2 495.8 405 495.2 405.9 494.9ZM422.1 492.2C422.9 491.5 424.1 491.2 425.2 491.5C426.4 491.7 427.3 492.3 427.9 493.4C428.6 494.4 428.9 495.8 428.4 496.8C427.9 497.9 426.6 498.4 425.3 498.7C424 499 422.6 498.9 421.7 498.2C420.9 497.5 420.7 496.1 420.7 495C420.8 493.9 421.2 492.9 422.1 492.2ZM374.3 507C373.9 507.8 373.2 508.5 372.4 508.7C371.5 508.8 370.4 508.4 369.9 507.8C369.3 507.1 369.1 506 369.5 505.3C369.8 504.5 370.8 504.1 371.7 504C372.5 503.8 373.5 504.1 374.1 504.7C374.6 505.3 374.6 506.3 374.3 507ZM308 511.9C307.6 510.4 308.4 508.8 309.4 507.3C310.4 505.9 311.7 504.2 313.2 504.2C314.7 504.2 316 505.8 317.1 507.3C318.2 508.8 319.4 510.3 319.1 512.1C318.9 513.8 317.3 515.8 315.8 516.4C314.3 517 312.6 516 311.1 515.2C309.6 514.3 308.3 513.4 308 511.9ZM337.1 513.9C336.8 513 336.9 511.6 337.5 510.9C338 510.1 339 509.8 339.9 509.8C340.8 509.9 341.5 510.3 342 511C342.5 511.8 342.6 512.6 342.5 513.6C342.4 514.5 342.1 515.8 341.4 516.2C340.8 516.6 339.8 516.1 339 515.7C338.1 515.3 337.4 514.8 337.1 513.9ZM378.3 515.7C379 514.9 379.7 514.2 380.9 514C382.2 513.8 383.9 513.9 384.8 514.5C385.6 515.1 385.5 516.2 385.4 517.2C385.3 518.2 385.2 519.1 384.2 519.7C383.2 520.2 381.7 520.2 380.4 519.9C379.1 519.6 377.7 519.1 377.3 518.2C376.9 517.4 377.6 516.5 378.3 515.7ZM397.2 513.2C398.3 513.6 399.5 514.1 400.2 514.9C400.8 515.7 400.7 516.7 400.4 517.3C400 518 399.1 518.1 398.2 518.1C397.2 518 396.4 517.7 395.5 517.1C394.6 516.5 393.8 515.8 393.6 515C393.3 514.2 393.7 513.4 394.4 513.1C395.1 512.8 396.1 512.9 397.2 513.2ZM421.8 520.6C419.5 521 417.6 521 416.5 520.3C415.4 519.6 415.3 518.4 416 516.9C416.8 515.5 418.3 513.7 420.3 512.9C422.3 512.1 424.5 512.4 426.5 512.6C428.6 512.8 430.5 513 430.9 514.1C431.3 515.2 430.2 517.2 428.5 518.4C426.7 519.7 424.1 520.3 421.8 520.6ZM359.3 524C358.6 524.6 357.3 524.9 356.3 524.7C355.3 524.5 354.3 523.7 354 522.8C353.8 522 354.4 520.9 355.1 520.3C355.8 519.7 356.7 519.4 357.6 519.6C358.5 519.7 359.3 520.4 359.6 521.3C359.9 522.1 359.9 523.3 359.3 524ZM305.7 526.3C305.3 527.2 304.4 527.8 303.3 528C302.3 528.3 301.1 528.2 300.2 527.6C299.3 527.1 298.6 526.1 298.5 525.1C298.4 524.2 298.9 523.4 299.6 522.8C300.3 522.2 301.1 522 302.2 522.1C303.3 522.2 304.7 522.5 305.3 523.3C306 524.1 306 525.4 305.7 526.3ZM388.6 529.8A3 1.6 0 0 1 394.6 529.8M281 455.6A2.4 2.4 0 0 1 281 460.4M306.8 439.4A2.4 1.2 0 0 1 302 439.4M351 438.6A2.4 0.8 0 0 1 346.2 438.6M434.8 438.6A2.4 1.2 0 0 1 430 438.6M281.6 531H286.4M318 531H322M360.2 531.4H361.8M441.7 453.4C440.8 453.2 440.1 452.2 439.9 451.3C439.7 450.5 439.9 449.6 440.5 448.9C441.1 448.3 442.2 447.9 443 448.1C443.9 448.2 444.6 449.1 444.9 449.9C445.1 450.7 445 451.6 444.4 452.3C443.8 453 442.6 453.6 441.7 453.4ZM443.6 470.1C443.9 471.2 443.6 472.5 443 473.5C442.3 474.4 441.3 474.8 440.2 474.9C439.1 475 437.9 474.7 437.2 473.8C436.4 473 436 471.6 436.3 470.5C436.5 469.4 437.4 468.5 438.3 468C439.3 467.5 440.4 467.3 441.4 467.7C442.4 468.1 443.3 469 443.6 470.1ZM442.4 490.8C442.2 491.6 441.2 492.3 440.2 492.5C439.2 492.7 438 492.5 437.4 491.9C436.7 491.2 436.5 490 436.8 489.2C437.2 488.4 438.2 487.7 439 487.6C439.9 487.5 440.8 487.8 441.4 488.5C442.1 489.1 442.7 490.1 442.4 490.8ZM444 518.3C444.2 519.1 444.1 520 443.5 520.6C442.9 521.1 441.8 521.3 440.8 521.1C439.9 520.9 439 520.4 438.4 519.7C437.8 518.9 437.4 518 437.6 517.2C437.8 516.3 438.6 515.5 439.6 515.3C440.5 515.1 441.7 515.6 442.5 516.2C443.4 516.8 443.8 517.5 444 518.3ZM522.6 439.8C524.6 438.6 526.8 437.8 529 437.8C531.3 437.8 533.3 438.6 534.3 439.8C535.2 440.9 535 442.3 534 443.6C533 444.9 531.3 445.9 529.1 446.5C527 447.1 525 447.1 522.9 446.5C520.9 446 518.7 445 518.6 443.7C518.6 442.4 520.6 440.9 522.6 439.8ZM559.74 438.39A5.4 5 0 1 1 551.46 438.39M577.3 440.5C577.2 439.4 577.3 438.2 578.3 437.5C579.3 436.8 581.1 436.4 582.4 436.6C583.8 436.9 584.8 437.9 585.3 438.9C585.8 439.9 585.6 440.8 585 441.7C584.5 442.6 583.5 443.2 582.4 443.4C581.2 443.7 580 443.4 579 442.8C578 442.2 577.5 441.5 577.3 440.5ZM566.6 452.1C565.8 451.6 565.2 451 565.1 450.2C564.9 449.5 565.3 448.7 566.1 448.1C566.8 447.5 567.8 447.1 568.9 447.2C570 447.2 571.2 447.7 571.8 448.4C572.4 449.1 572.4 450.2 572 451C571.6 451.8 570.5 452.4 569.5 452.6C568.5 452.8 567.5 452.5 566.6 452.1ZM510 451.4A4 4 0 0 1 510 459.4M540.3 459.9C539.5 459.5 539.2 458.6 539.5 457.8C539.8 457 540.6 456.2 541.7 455.7C542.8 455.2 544.1 455.1 545.2 455.2C546.3 455.3 547.1 455.6 547.5 456.3C548 457 548.2 458 547.4 458.7C546.7 459.5 545.1 459.8 543.7 460C542.3 460.2 541.1 460.3 540.3 459.9ZM556.3 459.3C556.3 458.3 556.7 457.2 557.5 456.6C558.3 456.1 559.4 456.2 560.3 456.5C561.3 456.8 562 457.3 562.3 458.2C562.7 459 562.7 459.9 562.3 460.8C561.9 461.6 561.1 462.2 560.2 462.5C559.3 462.7 558.3 462.4 557.6 461.8C556.8 461.2 556.3 460.3 556.3 459.3ZM528.6 465.4C528.4 466.4 527.5 467.5 526.5 467.9C525.6 468.2 524.4 467.6 523.5 467.1C522.6 466.5 522.1 465.9 521.8 465C521.5 464 521.3 462.9 521.8 462C522.4 461.2 523.6 460.5 524.7 460.6C525.8 460.7 526.8 461.4 527.5 462.4C528.3 463.3 528.8 464.3 528.6 465.4ZM577.2 460.8C577.9 460 578.7 459.3 580 459.1C581.4 458.9 583.1 459 584.2 459.7C585.2 460.3 585.7 461.5 585.6 462.5C585.4 463.6 584.6 464.5 583.3 465.1C582.1 465.7 580.3 466 579 465.6C577.7 465.2 576.9 464.2 576.6 463.2C576.2 462.3 576.5 461.5 577.2 460.8ZM548 470.6C547.3 471.3 546.6 471.8 545.6 471.8C544.6 471.9 543.5 471.5 542.8 470.8C542.1 470.1 541.7 469.1 541.9 468.3C542.2 467.4 543.1 466.7 544.1 466.3C545.1 466 546.2 466 547.2 466.4C548.1 466.8 549 467.6 549.2 468.4C549.3 469.2 548.7 469.9 548 470.6ZM509.6 468.4A3 2.6 0 0 1 509.6 473.6M537.3 482.1C537 481.2 537.7 480.3 538.5 479.4C539.3 478.6 540.2 477.6 541.4 477.6C542.6 477.5 543.7 478.3 544.7 479.1C545.6 480 546.6 480.9 546.4 481.9C546.2 482.9 545 483.9 543.8 484.3C542.5 484.7 541.2 484.6 540 484.2C538.7 483.7 537.6 483 537.3 482.1ZM583 484.8C581 485.6 578.8 485.9 576.7 485C574.7 484.1 572.9 482 572.5 480.1C572.1 478.1 573.4 476.3 574.8 474.9C576.3 473.6 577.9 473 580 473.1C582.1 473.1 584.3 473.7 585.7 475.2C587.1 476.7 587.8 479.1 587.3 481C586.8 482.8 585 484 583 484.8ZM511.6 486.2C510.8 485.4 510.1 484.4 510.4 483.5C510.6 482.6 511.8 482 512.9 481.6C514 481.1 515.1 480.9 516.2 481.3C517.3 481.6 518.2 482.3 518.6 483.4C519 484.4 519.1 485.6 518.4 486.5C517.6 487.3 516 487.8 514.7 487.7C513.4 487.7 512.5 487 511.6 486.2ZM562 483.6C562.6 484.3 562.7 485.5 562.5 486.6C562.4 487.6 561.9 488.3 561 488.9C560.2 489.6 559.1 490.1 558.2 489.7C557.3 489.4 556.6 488.1 556.4 487.1C556.1 486 556.5 484.8 557.1 484C557.7 483.2 558.5 482.9 559.4 482.9C560.4 482.8 561.4 482.9 562 483.6ZM523.1 491C523.6 489.2 525.8 487.8 527.9 487.3C530 486.8 532.1 487.3 534.1 488.4C536.1 489.6 537.8 491.1 538.3 493.2C538.8 495.2 538.3 497.9 536.7 499.1C535.1 500.4 532.3 500.3 530.1 499.8C527.9 499.3 526.5 498.2 525.2 496.5C523.8 494.8 522.6 492.7 523.1 491ZM549.2 503.1C548.1 502.7 547.1 501.8 547 501C546.9 500.1 547.7 499.4 548.6 498.7C549.6 498 550.6 497.3 551.9 497.4C553.1 497.4 554.5 498.1 555.2 498.9C555.8 499.7 555.9 500.7 555.4 501.6C554.9 502.4 553.9 502.9 552.7 503.2C551.5 503.5 550.3 503.5 549.2 503.1ZM570.7 505.8C571 506.9 571 508 570.2 508.7C569.4 509.3 567.8 509.5 566.5 509.4C565.1 509.3 564.2 508.9 563.3 508.2C562.5 507.4 561.8 506.4 562.1 505.5C562.4 504.7 563.6 504.1 564.9 503.6C566.2 503.2 567.8 502.8 568.9 503.2C570 503.7 570.5 504.8 570.7 505.8ZM582.1 503.4C582.4 502.8 583.2 502.4 584.2 502.5C585.3 502.5 586.5 502.9 587.6 503.7C588.6 504.4 589.5 505.4 589.8 506.4C590 507.3 589.7 508.4 588.9 508.7C588 509 586.6 508.4 585.3 507.9C584.1 507.3 583 506.7 582.4 505.9C581.7 505 581.7 504.1 582.1 503.4ZM515.5 508.7C514.5 508.8 513.4 508.2 512.7 507.6C512 507 511.6 506.4 511.6 505.6C511.6 504.9 512 504.2 512.7 503.7C513.4 503.2 514.3 502.8 515.3 502.9C516.3 503 517.5 503.5 518 504.2C518.5 505 518.5 506.1 518 506.9C517.5 507.8 516.5 508.5 515.5 508.7ZM530.7 513.9C531.7 514.2 532.6 515.3 532.9 516.3C533.2 517.3 532.7 518.2 532 518.9C531.4 519.6 530.7 519.8 529.7 519.9C528.6 519.9 527.5 519.8 526.7 519.1C526 518.4 525.7 517.1 525.9 516.2C526.1 515.3 527 515 527.9 514.5C528.8 514.1 529.8 513.5 530.7 513.9ZM549.9 517.6C550.2 516.9 550.9 516.5 551.7 516.7C552.4 516.8 553.2 517.4 553.7 518.3C554.2 519.1 554.4 520.2 554.3 521.1C554.3 522 553.8 522.5 553.2 522.9C552.7 523.2 551.9 523.2 551.3 522.8C550.6 522.3 550 521.3 549.7 520.3C549.4 519.3 549.5 518.3 549.9 517.6ZM579 522.6C579 523.5 578.8 524.5 578 524.7C577.2 524.9 575.9 524.3 575 523.8C574 523.2 573.3 522.6 572.9 521.7C572.5 520.9 572.4 519.9 572.9 519.3C573.4 518.6 574.6 518.3 575.6 518.5C576.6 518.7 577.7 519.5 578.4 520.2C579 521 579.1 521.7 579 522.6ZM516.6 527.6C516.3 528.4 515.5 529 514.6 529.3C513.6 529.5 512.3 529.4 511.7 528.7C511.1 528.1 511.2 526.9 511.5 526.1C511.9 525.2 512.5 524.6 513.4 524.3C514.3 524.1 515.7 524.2 516.3 524.9C516.9 525.5 517 526.7 516.6 527.6ZM539.8 438.4H543M598.7 439.4C598.6 440.2 597.9 441.2 597 441.5C596.1 441.7 594.7 441.5 594 440.9C593.4 440.4 593.4 439.4 593.6 438.6C593.8 437.8 594.4 437.2 595.2 437C596 436.8 597 436.9 597.6 437.4C598.3 437.9 598.8 438.7 598.7 439.4ZM616.3 447.9C617.2 449.6 617.6 451.2 616.5 452.4C615.3 453.6 612.7 454.4 610.4 454.2C608 453.9 605.7 452.4 604.1 451C602.5 449.6 602 448.3 602.1 446.7C602.2 445.1 602.8 443.4 604.7 442.8C606.7 442.3 609.8 442.9 612.1 443.9C614.3 444.8 615.5 446.3 616.3 447.9ZM589.8 455.5C588.7 455.4 587.8 454.6 587.4 453.8C587 452.9 587.1 451.8 587.7 451.1C588.2 450.4 589.2 450.1 590.2 450.2C591.2 450.2 592.4 450.5 592.9 451.3C593.4 452.1 593.3 453.5 592.7 454.4C592.1 455.2 590.8 455.7 589.8 455.5ZM631.7 441.2C632.3 440.7 633.4 440.4 634.4 440.1C635.3 439.9 636 439.8 636.6 440C637.2 440.2 637.5 440.6 637.4 441.2C637.2 441.7 636.8 442.4 635.9 442.9C635.1 443.4 633.8 443.7 633 443.7C632.1 443.7 631.8 443.2 631.5 442.7C631.3 442.3 631.2 441.7 631.7 441.2ZM662 456.3C659.6 456.2 657.7 455.5 656.2 454C654.7 452.4 653.4 450.2 654 448.4C654.6 446.6 656.9 445.6 659.1 444.7C661.3 443.8 663.5 443.1 665.5 443.8C667.5 444.5 669.1 446.5 669.7 448.5C670.2 450.6 669.7 452.9 668.2 454.4C666.8 455.9 664.3 456.4 662 456.3ZM680 441.8C680.9 441.9 681.8 442.7 682.1 443.5C682.4 444.3 682.2 445.3 681.7 445.9C681.1 446.6 680.2 447 679.2 446.9C678.3 446.8 677.1 446.2 676.8 445.4C676.5 444.7 677 443.7 677.6 443C678.3 442.3 679.2 441.7 680 441.8ZM702.03 437.86A7.2 5.4 0 1 1 692.77 437.86M714.7 449.8C713.7 449.5 713 448.7 712.5 447.8C712.1 446.9 712.1 446.1 712.5 445.3C712.8 444.6 713.4 444.1 714.3 443.9C715.2 443.7 716.3 443.7 717.1 444.2C717.8 444.7 718.2 445.7 718.3 446.7C718.5 447.7 718.5 448.8 717.8 449.4C717.1 450 715.7 450.1 714.7 449.8ZM605.9 459.5C606.7 460.4 606.6 461.9 606.3 463C606 464.1 605.2 464.9 604.2 465.4C603.2 465.9 602.1 465.9 601 465.5C599.8 465.2 598.8 464.5 598.4 463.5C597.9 462.4 598.1 461 598.8 460.1C599.5 459.2 600.8 458.8 602.2 458.7C603.5 458.6 605.1 458.7 605.9 459.5ZM645.9 462.7C644.9 462.8 643.8 462.5 643.3 461.8C642.7 461.1 642.5 459.9 642.9 459.1C643.3 458.3 644.3 457.5 645.3 457.4C646.3 457.3 647.5 457.8 648.1 458.5C648.6 459.3 648.7 460.5 648.3 461.3C647.8 462.1 646.8 462.6 645.9 462.7ZM634.2 475.2C633.3 477 631.7 477.2 630.2 476.9C628.8 476.6 627.4 475.6 626.7 473.5C626 471.3 625.9 468.4 626.4 465.7C626.8 463 627.6 460.3 628.9 459.5C630.1 458.6 631.6 459.8 632.8 461.3C633.9 462.8 634.6 464.6 634.9 467.3C635.1 469.9 635.1 473.3 634.2 475.2ZM689.5 463.9C687.9 463.4 686.1 462.7 685.4 461.5C684.7 460.4 685 458.8 685.8 457.8C686.6 456.8 688 456.4 689.5 456.4C691.1 456.4 692.5 456.8 693.8 457.8C695.2 458.7 696.5 460.1 696.5 461.4C696.5 462.6 695.2 463.7 693.8 464.1C692.5 464.6 691.1 464.4 689.5 463.9ZM707.1 461.4C706.2 461.5 705.2 461 704.6 460.2C704.1 459.5 703.7 458.2 704.1 457.4C704.5 456.7 705.6 456.4 706.5 456.3C707.4 456.2 708.3 456.4 708.9 457.1C709.4 457.7 709.7 458.9 709.4 459.7C709.1 460.5 708 461.3 707.1 461.4ZM732.5 456.1C733.8 456.9 734 458.6 734.1 460C734.2 461.4 733.9 462.6 732.9 463.5C731.8 464.4 730 464.7 728.4 464.5C726.8 464.3 725.5 463.7 724.5 462.6C723.4 461.5 722.4 459.9 722.9 458.7C723.4 457.4 725.2 456.4 727.1 456C728.9 455.5 731.1 455.3 732.5 456.1ZM616.2 471.3C616.7 472 617 473 616.5 473.8C616.1 474.5 615 475 614.1 475.1C613.1 475.2 612.3 475 611.5 474.4C610.7 473.9 610 473.2 610 472.4C609.9 471.5 610.4 470.4 611.2 469.9C612 469.5 613.1 469.7 614.1 470C615 470.2 615.7 470.5 616.2 471.3ZM596.7 477.5C597.2 476.9 598.2 476.6 599.2 476.6C600.2 476.6 601.1 476.8 601.7 477.3C602.3 477.8 602.4 478.6 602.3 479.4C602.1 480.1 601.6 480.7 600.9 481.1C600.1 481.4 599.2 481.5 598.3 481.3C597.4 481 596.6 480.5 596.3 479.8C595.9 479 596.1 478.1 596.7 477.5ZM654.2 472.4C655.2 471.8 656.5 471.8 657.7 472.1C658.9 472.4 659.9 473 660.5 474.1C661.1 475.1 661.2 476.7 660.6 477.7C660 478.7 658.6 479.2 657.3 479.4C656 479.6 654.7 479.4 653.8 478.6C652.9 477.8 652.5 476.6 652.5 475.4C652.6 474.2 653.3 473.1 654.2 472.4ZM680.5 473.8C682 475 682.4 477.6 682.3 479.8C682.2 482.1 681.5 484 680 485.6C678.4 487.1 676.4 488.2 674.4 488C672.4 487.8 670.5 486.5 669.5 484.4C668.5 482.4 668.4 479.5 669.4 477.5C670.4 475.4 672.5 474.4 674.6 473.7C676.8 473 679 472.6 680.5 473.8ZM713.2 473.3C712.4 473.8 711.2 473.7 710.2 473.3C709.3 472.9 708.6 472.1 708.4 471.2C708.1 470.3 708.2 469.4 708.7 468.4C709.2 467.5 710.1 466.5 711 466.4C712 466.3 713 467.1 713.7 468C714.5 468.8 714.9 469.6 714.8 470.7C714.7 471.7 714.1 472.7 713.2 473.3ZM698.4 489.8C696.8 489.3 695.1 488.3 694.4 486.6C693.7 485 693.8 482.7 694.7 481.3C695.7 479.8 697.6 479.3 699.3 479.3C701 479.2 702.2 479.8 703.4 481C704.7 482.1 705.9 483.7 705.7 485.3C705.6 486.8 704.2 488.1 702.8 489C701.4 489.8 700 490.2 698.4 489.8ZM729.9 478.7C729.8 479.6 729 480.4 728.2 480.9C727.4 481.3 726.2 481.4 725.5 481C724.8 480.5 724.4 479.5 724.5 478.5C724.5 477.6 724.9 476.5 725.7 476.1C726.4 475.7 727.6 475.9 728.4 476.4C729.2 476.9 729.9 477.9 729.9 478.7ZM614.9 494.7C613 495.5 610.9 496.2 608.8 495.8C606.7 495.4 604.8 494.1 603.9 492.7C603.1 491.2 603 489.2 604.3 488C605.6 486.8 608.3 486.7 610.7 486.6C613.2 486.4 615.5 486.4 617 487.4C618.5 488.4 619.1 490.2 618.7 491.6C618.3 493 616.8 493.9 614.9 494.7ZM636.5 489.3C636.6 488.6 636.9 488 637.6 487.6C638.3 487.2 639.2 486.9 640.2 487.1C641.2 487.2 642.3 487.7 642.6 488.3C643 489 642.5 489.7 642 490.4C641.4 491.1 640.9 491.6 640 491.7C639.1 491.9 637.9 491.8 637.2 491.4C636.5 490.9 636.4 490.1 636.5 489.3ZM597.6 493.8C597.8 494.8 597.5 495.4 596.8 496.2C596.1 497 595.1 497.9 593.9 498C592.7 498 591.2 497.4 590.4 496.6C589.7 495.8 589.7 494.6 590.1 493.6C590.5 492.7 591.4 492.3 592.5 491.8C593.6 491.4 595 490.8 596 491.2C597 491.6 597.5 492.8 597.6 493.8ZM626.4 501.5C625.8 500.8 625.8 499.6 626.1 498.7C626.4 497.8 627.3 496.9 628.1 496.8C628.9 496.7 629.8 497.4 630.4 498.1C631 498.8 631.5 499.8 631.2 500.5C631 501.3 630 501.8 629 502C628.1 502.2 627 502.1 626.4 501.5ZM649.6 504.7C648.6 502.8 648.9 500.2 650.1 498.6C651.3 497.1 653.8 496.7 656 496.7C658.2 496.7 660.1 497.2 661.6 498.5C663.2 499.8 664.2 501.7 664.1 503.5C664 505.4 662.9 507.3 661.1 508.2C659.4 509.2 657.1 509.1 654.9 508.4C652.7 507.8 650.5 506.6 649.6 504.7ZM694.2 501.6C693.4 502.5 692.2 503.3 691 503.2C689.7 503.2 688.1 502.4 687.5 501.4C686.9 500.4 687.4 499.1 687.9 497.9C688.4 496.7 688.8 495.7 689.9 495.2C691.1 494.7 692.8 494.7 693.7 495.4C694.7 496 695 497.4 695.1 498.6C695.2 499.8 695 500.7 694.2 501.6ZM710.5 495C711.4 495.1 712.2 495.2 712.5 495.6C712.8 496 712.5 496.6 711.9 497.1C711.3 497.6 710.4 498.1 709.5 498.3C708.6 498.5 707.7 498.3 707.1 498.1C706.5 497.8 706.3 497.4 706.4 496.9C706.6 496.4 707.1 495.8 707.9 495.4C708.7 495 709.7 495 710.5 495ZM723.5 496.9C722.9 495.9 723.1 494.4 723.6 493.4C724.2 492.3 725.3 491.4 726.4 491.2C727.6 491 728.6 491.5 729.6 492.2C730.7 492.9 731.6 493.8 731.7 494.9C731.8 496.1 731.1 497.4 730.1 498.1C729.1 498.8 727.9 498.9 726.6 498.6C725.3 498.4 724.1 497.9 723.5 496.9ZM600.3 503.4C601.3 503.5 602.3 504.1 602.8 504.9C603.3 505.6 603.3 506.4 603 507.2C602.7 508 602.1 508.7 601.2 509C600.3 509.3 599.3 509 598.4 508.6C597.6 508.1 597.1 507.5 597 506.8C596.8 506 596.9 505.2 597.6 504.5C598.2 503.9 599.3 503.3 600.3 503.4ZM676.7 507.5C676.2 508.2 675.3 508.7 674.5 508.6C673.7 508.5 673 507.9 672.6 507.2C672.2 506.4 671.9 505.4 672.3 504.8C672.8 504.3 673.8 504 674.7 504.1C675.6 504.1 676.7 504.4 677.1 505C677.4 505.7 677.2 506.8 676.7 507.5ZM615.4 508.8C616.6 509.6 617 510.9 617.2 512.4C617.4 513.8 617.4 515.3 616.5 516.3C615.7 517.3 614.2 517.7 612.7 517.6C611.1 517.6 609.3 517.2 608.6 516C607.8 514.9 608.4 513.2 608.8 511.7C609.3 510.2 609.8 508.7 611.1 508.1C612.3 507.6 614.2 508 615.4 508.8ZM630.9 516.5C630.9 517.5 630.3 518.6 629.3 519.1C628.3 519.6 627 519.5 625.6 519.3C624.3 519.1 622.8 518.9 622.2 518.1C621.6 517.4 622 516.3 622.6 515.4C623.2 514.4 624 513.6 625.2 513.3C626.5 513.1 628.1 513.3 629.2 514C630.3 514.6 630.8 515.5 630.9 516.5ZM643.9 516.2C643.2 516.7 642.3 516.9 641.6 516.5C641 516.1 640.8 515 640.6 514.1C640.4 513.1 640.3 512.3 640.7 511.5C641 510.7 641.7 509.9 642.4 509.8C643.1 509.7 643.6 510.4 644.2 511.2C644.7 511.9 645.3 512.7 645.2 513.7C645.2 514.6 644.6 515.6 643.9 516.2ZM683.7 520.4C682.5 520.2 681.7 519.4 681.1 518.5C680.5 517.7 680.1 517 680.5 516.1C680.9 515.2 681.9 514.2 683.1 514C684.2 513.8 685.6 514.3 686.6 514.9C687.6 515.5 688.2 516.1 688.3 517C688.5 517.9 688.1 518.8 687.2 519.4C686.3 520.1 684.9 520.6 683.7 520.4ZM697.8 517C697.1 516.2 696.7 515.4 696.8 514.8C696.9 514.1 697.4 513.7 698.3 513.5C699.2 513.3 700.3 513.1 701.3 513.7C702.3 514.2 703.1 515.2 703.5 516.2C703.8 517.1 703.9 518.1 703.3 518.5C702.7 519 701.4 518.8 700.4 518.5C699.3 518.2 698.5 517.7 697.8 517ZM725.7 512.8C728 512.2 730.2 511.9 731.6 512.5C733 513 733.7 514.4 733 515.7C732.4 517.1 730.6 518.4 728.3 519.5C726.1 520.7 723.5 521.7 721.5 521.7C719.4 521.7 718.2 520.6 717.8 519.4C717.4 518.2 718 516.6 719.5 515.4C721 514.1 723.3 513.3 725.7 512.8ZM595.7 519.9C596.5 520.6 597.3 521.3 597.2 522.1C597.1 522.9 596.1 523.7 595.2 524.1C594.3 524.5 593.4 524.4 592.4 524.1C591.5 523.8 590.5 523.2 590.3 522.5C590 521.7 590.5 520.9 591.1 520.1C591.7 519.3 592.5 518.5 593.4 518.4C594.2 518.4 595 519.2 595.7 519.9ZM657.2 520.8C657.6 520.1 658.6 519.3 659.5 519.2C660.4 519.2 661.5 519.9 661.9 520.6C662.4 521.4 662.3 522.3 661.9 523.1C661.4 523.9 660.6 524.7 659.7 524.8C658.9 524.8 658 524 657.5 523.2C657 522.5 656.8 521.6 657.2 520.8ZM606.4 524.2C607.3 524.5 608.1 525.1 608.4 525.9C608.7 526.8 608.7 527.9 608 528.5C607.4 529.2 606.1 529.5 605 529.5C603.9 529.4 602.9 529.1 602.3 528.4C601.6 527.8 601.6 526.8 601.8 526C602.1 525.3 602.8 524.8 603.7 524.4C604.6 524.1 605.4 523.9 606.4 524.2ZM639.9 526.7C639.7 527.6 639.4 528.7 638.7 529.1C638 529.6 637 529.5 636.2 529C635.5 528.6 634.9 527.8 634.7 526.8C634.4 525.8 634.4 524.4 635 523.7C635.5 523 636.5 522.9 637.4 522.9C638.2 523 638.9 523.3 639.4 524C639.9 524.7 640 525.7 639.9 526.7ZM691.4 529.8A3 1.6 0 0 1 697.4 529.8M737.8 438.6A2.4 1.2 0 0 1 733 438.6M653.8 438.6A2.4 0.8 0 0 1 649 438.6M610 530.6H614M622.4 531H625.6M662.8 531.4H664.4M743.6 448.7C744.3 448.3 745.2 448.2 746 448.6C746.8 448.9 747.6 449.6 747.7 450.4C747.8 451.1 747.2 452 746.4 452.5C745.7 453 744.6 453.2 743.9 452.9C743.1 452.5 742.5 451.6 742.4 450.8C742.4 450 742.9 449.2 743.6 448.7ZM756.1 448.6C756.4 447.3 757.5 446.3 758.8 445.5C760.1 444.8 761.6 444.4 762.9 444.9C764.2 445.4 765.3 446.9 765.6 448.3C765.9 449.8 765.4 451 764.6 452.3C763.8 453.6 762.7 455.1 761.3 455.1C760 455.2 758.7 453.9 757.7 452.6C756.7 451.4 755.9 450 756.1 448.6ZM786.1 445.3C785.2 445.8 784 446.2 782.7 446.4C781.4 446.5 780 446.4 779.4 446.1C778.7 445.7 778.7 445.1 779.4 444.5C780 444 781.3 443.5 782.6 443.2C783.9 442.9 785.1 442.9 786.1 443C787 443.2 787.4 443.5 787.4 444C787.4 444.4 787 444.9 786.1 445.3ZM774 439A2 1 0 0 1 770 439M798.4 443A1.6 2.4 0 0 1 798.4 438.2M790 457.3C790.7 456.8 791.7 456.8 792.5 457.1C793.4 457.4 794.2 458.2 794.3 459C794.4 459.9 793.9 460.8 793.2 461.4C792.4 462 791.3 462.4 790.5 462.1C789.7 461.8 789 460.7 788.9 459.8C788.8 458.9 789.3 457.8 790 457.3ZM743 475.6C742 475.5 741.3 474.5 740.7 473.6C740 472.7 739.5 471.8 739.7 470.8C739.8 469.8 740.6 468.9 741.5 468.5C742.4 468 743.5 468.1 744.3 468.6C745.2 469 745.6 469.8 745.9 470.9C746.2 471.9 746.4 473.1 745.9 474C745.3 474.9 744 475.6 743 475.6ZM759.4 467.8C759.4 468.7 758.8 469.9 757.9 470.2C757.1 470.5 755.9 470.1 755.2 469.5C754.4 469 754 468.3 754 467.4C754.1 466.6 754.6 465.6 755.4 465.2C756.2 464.8 757.4 464.9 758.2 465.5C759 466 759.5 466.9 759.4 467.8ZM773.5 467C774.4 466.3 775.6 466.5 776.7 466.8C777.8 467.1 778.6 467.7 779.1 468.7C779.5 469.7 779.5 471 779.1 472C778.6 473 777.8 473.5 776.7 473.8C775.7 474.2 774.4 474.5 773.6 473.9C772.7 473.2 772.1 471.7 772.1 470.4C772.1 469.1 772.7 467.7 773.5 467ZM765.1 476.8C767.2 476.8 769.7 477.1 770.8 478.9C772 480.7 771.9 483.9 771 486.2C770 488.5 768.1 490 765.9 490.9C763.7 491.8 761.3 492 759.6 490.8C757.8 489.6 757 487 757 484.6C757 482.3 758.1 480 759.6 478.5C761.2 477 762.9 476.7 765.1 476.8ZM744.5 491.5C743.9 492.1 743.1 492.4 742.3 492.3C741.5 492.2 740.7 491.7 740.3 490.9C739.9 490.2 739.9 489 740.4 488.3C740.9 487.6 742.1 487.2 743 487.3C743.9 487.4 744.9 488.1 745.2 488.9C745.5 489.7 745.1 490.8 744.5 491.5ZM779.4 485.8C780.2 485.6 781.3 485.8 781.9 486.3C782.5 486.9 782.7 487.9 782.5 488.7C782.2 489.5 781.5 490.3 780.7 490.5C779.8 490.7 778.7 490.3 778.1 489.7C777.5 489.1 777.4 488.1 777.7 487.4C777.9 486.6 778.6 486 779.4 485.8ZM798.4 481.8A2.4 3.2 0 0 1 798.4 475.4M751.5 497.3C752.2 496.6 753.2 496.9 754.2 497.1C755.2 497.4 756.2 497.8 756.6 498.7C756.9 499.6 756.4 500.8 756 501.7C755.5 502.7 755 503.4 754.2 503.7C753.5 503.9 752.6 503.7 751.9 503C751.1 502.4 750.5 501.5 750.4 500.4C750.3 499.3 750.8 497.9 751.5 497.3ZM793.8 497.5C794.2 498.4 793.7 499.3 793 500.1C792.2 500.9 791.2 501.8 790 501.9C788.7 502 787.4 501.3 786.5 500.6C785.6 500 785.3 499.2 785.3 498.3C785.4 497.4 785.7 496.3 786.8 495.8C787.8 495.3 789.5 495.3 790.9 495.7C792.2 496 793.4 496.7 793.8 497.5ZM774.4 503.1C775.3 502.6 776.7 502.5 777.6 503.1C778.4 503.8 778.8 505.3 778.9 506.6C779.1 508 779 509.4 778.3 510.4C777.6 511.3 776.4 511.7 775.3 511.6C774.2 511.5 773 510.8 772.5 509.7C771.9 508.6 772.1 507.2 772.4 505.9C772.8 504.6 773.4 503.6 774.4 503.1ZM743.1 515.8C744 515.7 745.1 516 745.8 516.6C746.5 517.1 746.8 517.8 746.7 518.6C746.7 519.3 746.4 520.2 745.6 520.6C744.8 521 743.8 520.8 742.7 520.6C741.7 520.4 740.5 520.1 740.1 519.5C739.8 518.8 740.3 518 740.9 517.2C741.5 516.5 742.1 515.9 743.1 515.8ZM761.7 516.2C761.6 517.1 761.2 518.2 760.4 518.5C759.7 518.8 758.4 518.3 757.8 517.7C757.2 517.1 756.9 516.2 757.1 515.4C757.2 514.6 757.9 513.9 758.6 513.7C759.3 513.4 760.3 513.6 760.9 514C761.5 514.5 761.8 515.3 761.7 516.2ZM765.8 526.4A7.2 5 0 0 1 780.2 526.4M796 518.4A5.6 5.4 0 0 1 796 507.6"/>
<path d="M473 477.4H483" stroke="#111" stroke-width="1.2"/>
</svg>
</body></html>
